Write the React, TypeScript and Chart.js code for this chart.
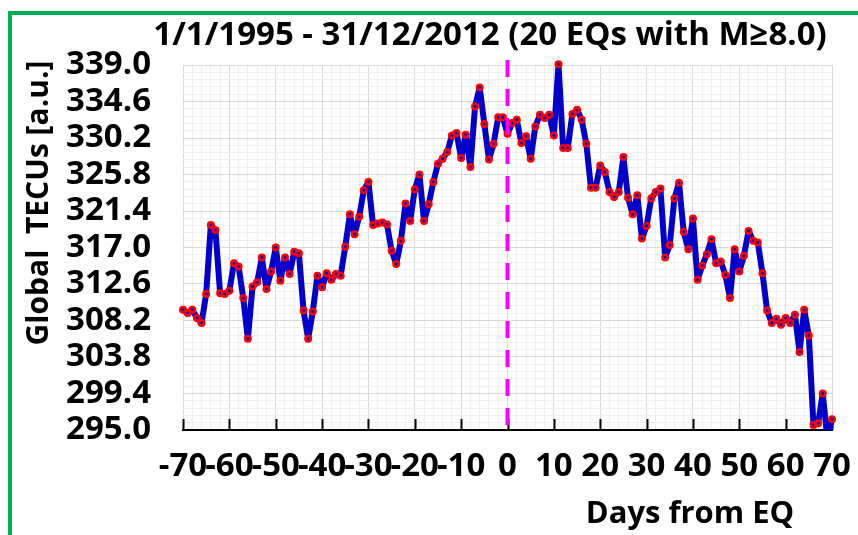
import React, { useEffect, useRef } from "react";
import { Chart, registerables } from "chart.js";

Chart.register(...registerables);

// ---- data ----
const days = [
  -70, -69, -68, -67, -66, -65, -64, -63, -62, -61, -60, -59, -58, -57, -56, -55, -54, -53, -52, -51,
  -50, -49, -48, -47, -46, -45, -44, -43, -42, -41, -40, -39, -38, -37, -36, -35, -34, -33, -32, -31,
  -30, -29, -28, -27, -26, -25, -24, -23, -22, -21, -20, -19, -18, -17, -16, -15, -14, -13, -12, -11,
  -10, -9, -8, -7, -6, -5, -4, -3, -2, -1, 0, 1, 2, 3, 4, 5, 6, 7, 8, 9,
  10, 11, 12, 13, 14, 15, 16, 17, 18, 19, 20, 21, 22, 23, 24, 25, 26, 27, 28, 29,
  30, 31, 32, 33, 34, 35, 36, 37, 38, 39, 40, 41, 42, 43, 44, 45, 46, 47, 48, 49,
  50, 51, 52, 53, 54, 55, 56, 57, 58, 59, 60, 61, 62, 63, 64, 65, 66, 67, 68, 69,
  70,
];

const tecValues = [
  309.5, 309.1, 309.5, 308.5, 307.9, 311.4, 319.7, 319.1, 311.5, 311.4, // -70..-61
  311.8, 315.1, 314.7, 310.9, 306.0, 312.3, 312.8, 315.8, 312.0, 314.1, // -60..-51
  317.0, 313.0, 315.8, 313.8, 316.5, 316.3, 309.4, 306.0, 309.3, 313.6, // -50..-41
  312.2, 313.9, 313.1, 313.8, 313.6, 317.1, 321.0, 318.6, 320.7, 323.9, // -40..-31
  324.9, 319.7, 319.9, 320.0, 319.8, 316.6, 315.0, 317.8, 322.3, 320.2, // -30..-21
  324.0, 325.8, 320.2, 322.2, 324.9, 327.1, 327.7, 328.5, 330.5, 330.8, // -20..-11
  327.8, 330.6, 326.7, 334.0, 336.3, 331.9, 327.6, 329.5, 332.7, 332.7, // -10..-1
  330.7, 332.0, 332.4, 329.6, 330.4, 327.7, 331.6, 333.0, 332.6, 333.0, // 0..9
  330.5, 339.1, 329.0, 329.0, 333.1, 333.6, 332.4, 329.5, 324.2, 324.2, // 10..19
  326.9, 326.1, 323.7, 323.1, 323.7, 327.9, 323.0, 321.0, 323.3, 318.1, // 20..29
  319.6, 322.9, 323.7, 324.1, 315.8, 317.3, 322.9, 324.8, 318.9, 316.8, // 30..39
  320.5, 313.1, 314.8, 316.2, 318.0, 315.1, 315.3, 313.7, 310.9, 316.8, // 40..49
  314.1, 316.0, 319.0, 317.8, 317.6, 313.9, 309.4, 307.9, 308.4, 307.7, // 50..59
  308.5, 307.9, 308.9, 304.4, 309.5, 306.4, 295.6, 295.8, 299.4, 294.0, // 60..69
  296.3, // 70
];

const xTickValues = [-70, -60, -50, -40, -30, -20, -10, 0, 10, 20, 30, 40, 50, 60, 70];
const xTickLabels = ["-70", "-60", "-50", "-40", "-30", "-20", "-10", "0", "10", "20", "30", "40", "50", "60", "70"];
const yTickValues = [295.0, 299.4, 303.8, 308.2, 312.6, 317.0, 321.4, 325.8, 330.2, 334.6, 339.0];
const yTickLabels = ["295.0", "299.4", "303.8", "308.2", "312.6", "317.0", "321.4", "325.8", "330.2", "334.6", "339.0"];
const eqDay = 0;

const titleText = "1/1/1995 - 31/12/2012 (20 EQs with M\u22658.0)";
const xTitleText = "Days from EQ";
const yTitleText = "Global  TECUs [a.u.]";

const FONT = "'Open Sans', 'DejaVu Sans', sans-serif";

function withMinor(major: number[], parts: number) {
  const out: { value: number }[] = [];
  for (let i = 0; i < major.length; i++) {
    out.push({ value: major[i] });
    if (i < major.length - 1) {
      const step = (major[i + 1] - major[i]) / parts;
      for (let k = 1; k < parts; k++) out.push({ value: major[i] + step * k });
    }
  }
  return out;
}

function majorIndex(list: number[], v: number) {
  for (let i = 0; i < list.length; i++) if (Math.abs(list[i] - v) < 1e-6) return i;
  return -1;
}

const xTickMarksPlugin = {
  id: "xTickMarks",
  beforeDatasetsDraw(chart: any) {
    const { ctx, chartArea, scales } = chart;
    const x = scales.x;
    ctx.save();
    ctx.strokeStyle = "#000";
    ctx.lineWidth = 2;
    xTickValues.forEach((v) => {
      const px = Math.round(x.getPixelForValue(v)) + 0.5;
      ctx.beginPath();
      ctx.moveTo(px, chartArea.bottom);
      ctx.lineTo(px, chartArea.bottom - 11);
      ctx.stroke();
    });
    ctx.restore();
  },
};

const eqLinePlugin = {
  id: "eqLine",
  afterDatasetsDraw(chart: any) {
    const { ctx, chartArea, scales } = chart;
    const px = scales.x.getPixelForValue(eqDay);
    ctx.save();
    ctx.strokeStyle = "#FF00FF";
    ctx.lineWidth = 4;
    ctx.setLineDash([17, 12]);
    ctx.beginPath();
    ctx.moveTo(px, chartArea.top - 5);
    ctx.lineTo(px, chartArea.bottom);
    ctx.stroke();
    ctx.restore();
  },
};

const textPlugin = {
  id: "texts",
  afterDraw(chart: any) {
    const { ctx } = chart;
    ctx.save();
    ctx.fillStyle = "#000";
    ctx.textBaseline = "middle";
    ctx.textAlign = "center";
    ctx.font = `bold 33px ${FONT}`;
    ctx.fillText(titleText, 490, 36);
    ctx.font = `bold 31px ${FONT}`;
    ctx.fillText(xTitleText, 690, 514);
    ctx.translate(39, 203);
    ctx.rotate(-Math.PI / 2);
    ctx.font = `bold 30px ${FONT}`;
    ctx.fillText(yTitleText, 0, 0);
    ctx.restore();
  },
};

export default function App() {
  const canvasRef = useRef<HTMLCanvasElement | null>(null);

  useEffect(() => {
    if (!canvasRef.current) return;
    const xTicks = withMinor(xTickValues, 5);
    const yTicks = withMinor(yTickValues, 5);
    const chart = new Chart(canvasRef.current, {
      type: "line",
      data: {
        datasets: [
          {
            data: days.map((d, i) => ({ x: d, y: tecValues[i] })),
            borderColor: "#0000CC",
            borderWidth: 6,
            borderJoinStyle: "round",
            borderCapStyle: "round",
            pointRadius: 2.7,
            pointBorderWidth: 2.6,
            pointBackgroundColor: "#0000CC",
            pointBorderColor: "#FF0000",
            tension: 0,
            fill: false,
            clip: { left: 10, right: 10, top: 10, bottom: 0 } as any,
          },
        ],
      },
      options: {
        responsive: false,
        animation: false,
        layout: { padding: { left: 0, top: 65, right: 26, bottom: 0 } },
        plugins: {
          legend: { display: false },
          title: { display: false },
          tooltip: { enabled: false },
        },
        scales: {
          x: {
            type: "linear",
            min: -70,
            max: 70,
            afterBuildTicks: (s: any) => {
              s.ticks = xTicks.map((t) => ({ value: t.value }));
            },
            afterFit: (s: any) => {
              s.height = 105;
              s.paddingLeft = 0;
              s.paddingRight = 0;
            },
            ticks: {
              autoSkip: false,
              maxRotation: 0,
              minRotation: 0,
              padding: 17,
              color: "#000",
              font: { family: FONT, size: 33, weight: "bold" },
              callback: (v: any) => {
                const j = majorIndex(xTickValues, Number(v));
                return j >= 0 ? xTickLabels[j] : "";
              },
            },
            grid: {
              drawTicks: false,
              lineWidth: 1,
              color: (c: any) =>
                c.tick && majorIndex(xTickValues, c.tick.value) >= 0 ? "#d9d9d9" : "#f0f0f0",
            },
            border: { display: true, color: "#000", width: 2 },
          },
          y: {
            type: "linear",
            min: 295,
            max: 339,
            afterBuildTicks: (s: any) => {
              s.ticks = yTicks.map((t) => ({ value: t.value }));
            },
            afterFit: (s: any) => {
              s.width = 183;
              s.paddingTop = 0;
              s.paddingBottom = 0;
            },
            ticks: {
              autoSkip: false,
              padding: 32,
              color: "#000",
              font: { family: FONT, size: 33, weight: "bold" },
              callback: (v: any) => {
                const j = majorIndex(yTickValues, Number(v));
                return j >= 0 ? yTickLabels[j] : "";
              },
            },
            grid: {
              drawTicks: false,
              lineWidth: 1,
              color: (c: any) =>
                c.tick && majorIndex(yTickValues, c.tick.value) >= 0 ? "#d9d9d9" : "#f0f0f0",
            },
            border: { display: false },
          },
        },
      },
      plugins: [xTickMarksPlugin, eqLinePlugin, textPlugin],
    });
    return () => chart.destroy();
  }, []);

  return (
    <div style={{ position: "absolute", left: 0, top: 0, width: 858, height: 535, background: "#fff" }}>
      <div
        style={{
          position: "absolute",
          left: 8,
          top: 11,
          width: 850,
          height: 524,
          borderLeft: "4px solid #00B050",
          borderTop: "4px solid #00B050",
        }}
      />
      <canvas
        ref={canvasRef}
        width={858}
        height={535}
        style={{ position: "absolute", left: 0, top: 0, width: 858, height: 535 }}
      />
    </div>
  );
}
